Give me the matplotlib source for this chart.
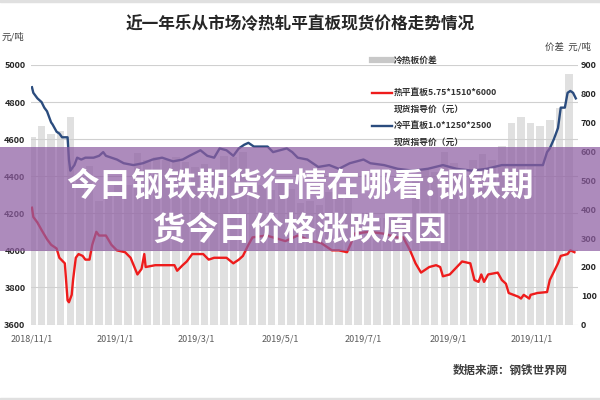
import pandas as pd
import matplotlib.pyplot as plt
from matplotlib.lines import Line2D
from matplotlib.patches import Rectangle

plt.rcParams['font.family'] = ['Noto Sans CJK SC', 'DejaVu Sans']

start = pd.Timestamp('2018-11-01')
x_labels = ['2018/11/1', '2019/1/1', '2019/3/1', '2019/5/1', '2019/7/1', '2019/9/1', '2019/11/1']

# hot rolled 5.75*1510*6000 (day offset from 2018/11/1, yuan)
hot_day = [0, 1, 4, 7, 11, 14, 18, 20, 24, 26, 27, 29, 30, 32, 34, 37, 39, 42, 44, 47, 49, 54, 58, 62,
           68, 72, 77, 80, 82, 83, 90, 104, 106, 110, 113, 117, 120, 125, 129, 133, 137, 142, 147, 151,
           154, 158, 161, 171, 176, 185, 194, 204, 211, 219, 224, 230, 233, 235, 246, 257, 266, 271, 276,
           280, 284, 290, 295, 298, 300, 305, 314, 320, 323, 326, 328, 330, 333, 340, 343, 346, 348, 355,
           357, 359, 363, 364, 369, 376, 378, 382, 384, 386, 391, 393, 396]
hot_price = [4230, 4180, 4150, 4110, 4060, 4030, 4010, 3960, 3930, 3730, 3720, 3760, 3840, 3960, 3980,
             3970, 3950, 3950, 4030, 4100, 4080, 4080, 4030, 4000, 3990, 3960, 3870, 3900, 3980, 3910,
             3920, 3920, 3890, 3920, 3940, 3980, 3980, 3980, 3950, 3960, 3960, 3960, 3930, 3950, 3970,
             4030, 4070, 4080, 4070, 4050, 4080, 4050, 4040, 4000, 4000, 3990, 4040, 4090, 4100, 4090,
             4070, 4070, 4000, 3930, 3880, 3910, 3920, 3910, 3860, 3870, 3940, 3930, 3840, 3830, 3870,
             3830, 3870, 3880, 3840, 3820, 3770, 3750, 3740, 3760, 3740, 3760, 3770, 3775, 3840, 3900,
             3930, 3970, 3980, 4000, 3990]

# cold rolled 1.0*1250*2500
cold_day = [0, 1, 4, 7, 9, 11, 14, 15, 18, 20, 22, 24, 26, 27, 28, 31, 33, 36, 39, 45, 49, 52, 54, 58,
            62, 67, 74, 81, 88, 95, 103, 110, 115, 123, 128, 133, 137, 142, 147, 151, 155, 158, 162, 172,
            176, 181, 186, 190, 194, 201, 209, 217, 224, 232, 242, 247, 257, 267, 278, 289, 300, 310, 321,
            332, 343, 353, 364, 373, 376, 378, 381, 384, 386, 389, 391, 393, 395, 397]
cold_price = [4880, 4850, 4820, 4800, 4770, 4750, 4690, 4680, 4640, 4630, 4610, 4610, 4610, 4490, 4430,
              4460, 4500, 4490, 4500, 4500, 4510, 4530, 4510, 4500, 4490, 4470, 4460, 4470, 4490, 4500,
              4480, 4490, 4510, 4540, 4510, 4500, 4550, 4540, 4510, 4550, 4570, 4580, 4560, 4560, 4530,
              4540, 4550, 4530, 4500, 4490, 4450, 4460, 4440, 4470, 4490, 4470, 4460, 4440, 4430, 4440,
              4460, 4440, 4430, 4440, 4460, 4460, 4460, 4460, 4530, 4550, 4600, 4660, 4770, 4770, 4850,
              4860, 4850, 4820]

# cold - hot spread, weekly
spread_day = [0, 7, 14, 21, 28, 35, 42, 49, 56, 63, 70, 77, 84, 91, 98, 105, 112, 119, 126, 133, 140,
              147, 154, 161, 168, 175, 182, 189, 196, 203, 210, 217, 224, 231, 238, 245, 252, 259, 266,
              273, 280, 287, 294, 301, 308, 315, 322, 329, 336, 343, 350, 357, 364, 371, 378, 385, 392]
spread = [650, 690, 660, 670, 720, 510, 550, 430, 455, 490, 485, 595, 570, 580, 570, 580, 565, 545, 555,
          540, 585, 580, 600, 495, 485, 465, 495, 470, 420, 430, 415, 460, 440, 455, 385, 385, 370, 370,
          370, 385, 500, 540, 530, 600, 560, 500, 570, 590, 570, 620, 700, 720, 700, 690, 710, 750, 870]

fig = plt.figure(figsize=(6, 4), dpi=100)
ax = fig.add_axes([31 / 600, 1 - 324.5 / 400, 547 / 600, 259.5 / 400])
ax2 = ax.twinx()

ax2.bar(spread_day, spread, width=5.5, color='#e0e0e0', linewidth=0)
ax.plot(hot_day, hot_price, color='#ee1c1c', lw=1.7)
ax.plot(cold_day, cold_price, color='#2b4c7e', lw=1.7)

ax.set_zorder(ax2.get_zorder() + 1)
ax.patch.set_visible(False)

ax.set_xlim(-0.7, 398.6)
ax.set_ylim(3600, 5000)
ax2.set_ylim(0, 900)
ax.set_yticks(range(3600, 5001, 200))
ax2.set_yticks(range(0, 901, 100))
ticks = [(pd.Timestamp(s.replace('/', '-')) - start).days for s in x_labels]
ax.set_xticks(ticks)
ax.set_xticklabels(x_labels, fontsize=6.5, color='#595959')
ax.grid(axis='y', color='#d0d0d0', lw=0.8)
ax.tick_params(length=0)
ax2.tick_params(length=0)
ax.tick_params(axis='y', pad=4)
ax.tick_params(axis='x', pad=7)
ax2.tick_params(axis='y', pad=2)
for lb in ax.get_yticklabels() + ax2.get_yticklabels():
    lb.set_fontsize(6.5)
    lb.set_fontweight('bold')
    lb.set_color('#262626')
for a in (ax, ax2):
    for s in a.spines.values():
        s.set_visible(False)

fig.text(0.5, 1 - 24 / 400, '近一年乐从市场冷热轧平直板现货价格走势情况', ha='center', va='center',
         fontsize=12, fontweight='bold', color='#262626')
fig.text(2 / 600, 1 - 37 / 400, '元/吨', ha='left', va='center', fontsize=6.8, color='#404040')
fig.text(545 / 600, 1 - 47 / 400, '价差  元/吨', ha='left', va='center', fontsize=6.8, color='#404040')
fig.text(568 / 600, 1 - 370 / 400, '数据来源：钢铁世界网', ha='right', va='center', fontsize=8.3,
         fontweight='bold', color='#404040')

# legend
leg = [('#c8c8c8', 4.5, 60, ['冷热板价差']),
       ('#ee1c1c', 1.7, 93, ['热平直板5.75*1510*6000', '现货指导价（元）']),
       ('#2b4c7e', 1.7, 126, ['冷平直板1.0*1250*2500', '现货指导价（元）'])]
for c, w, yy, txt in leg:
    fig.add_artist(Line2D([372 / 600, 392 / 600], [1 - yy / 400] * 2, color=c, lw=w))
    for i, t in enumerate(txt):
        fig.text(394 / 600, 1 - (yy + 16.5 * i) / 400, t, ha='left', va='center', fontsize=6.3,
                 fontweight='bold', color='#333333')

# frame lines
fig.add_artist(Rectangle((0, 1 - 1.5 / 400), 1, 1.5 / 400, color='#e0e0e0', zorder=5))
fig.add_artist(Rectangle((0, 0), 1, 2.5 / 400, color='#e0e0e0', zorder=5))

# overlay banner
fig.add_artist(Rectangle((0, 1 - 251 / 400), 1, 104 / 400, color='#8e5ea2', alpha=0.72, lw=0, zorder=10))
fig.text(0.5, 1 - 186 / 400, '今日钢铁期货行情在哪看:钢铁期', ha='center', va='center', fontsize=23.5,
         fontweight='bold', color='white', zorder=11)
fig.text(0.5, 1 - 230 / 400, '货今日价格涨跌原因', ha='center', va='center', fontsize=23.5,
         fontweight='bold', color='white', zorder=11)

fig.savefig('out.png', dpi=100)
